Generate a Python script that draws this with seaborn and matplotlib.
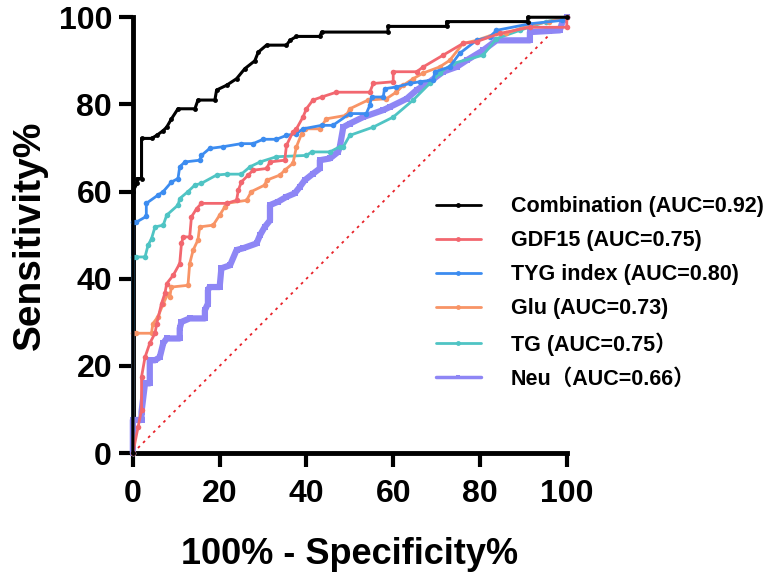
import numpy as np
import pandas as pd
import matplotlib
matplotlib.use("Agg")
import matplotlib.pyplot as plt
from matplotlib.lines import Line2D
import seaborn as sns

# ROC curves: x = 100% - specificity, y = sensitivity
comb_x = [0, 0, 1, 1, 2, 2, 4.3, 5.5, 7, 7.8, 8.9, 10.4, 14.3, 15, 18.9, 19.3, 21.6, 23.9, 25.8, 28.1, 28.9,
          30.8, 35.4, 36.2, 37.7, 43.1, 43.5, 58.8, 58.8, 72.3, 72.3, 91, 91, 100]
comb_y = [0, 60, 62, 63, 63, 72.2, 72.2, 72.9, 74, 74.8, 76.7, 79, 79, 81, 81, 83.3, 84.4, 85.9, 88.2, 90, 92,
          93.6, 93.6, 94.7, 95.6, 95.6, 96.6, 96.6, 97.9, 97.9, 99, 99, 100, 100]

gdf_x = [0, 1.2, 2, 2, 2.8, 3.9, 5.1, 5.5, 6.6, 7.4, 7.8, 9.3, 10.8, 11.2, 11.6, 13.1, 13.5, 14.7, 15.8, 21.6,
         23.9, 24.3, 25, 26.6, 27.7, 30.8, 31.6, 35, 35.4, 36.9, 37.7, 39.2, 40, 41.5, 43.5, 46.9, 54.6, 55.4,
         60, 60, 65.4, 66.9, 71.5, 76.1, 79.2, 84.6, 91.5, 100, 100]
gdf_y = [0, 6, 9.9, 17.5, 22, 25.2, 27.5, 29.7, 34.3, 36.7, 38.9, 40.8, 43.5, 48.1, 49.6, 49.6, 54.2, 56.1,
         57.3, 57.3, 58, 60.3, 62.2, 63.8, 64.9, 65.3, 66.8, 67.2, 70.6, 73.7, 74.4, 77.1, 79, 81, 81.7, 82.8,
         82.8, 84.8, 85.2, 87.5, 87.5, 88.6, 91.3, 94, 94.4, 96.3, 97.7, 97.7, 100]

tyg_x = [0, 0, 0.8, 3.1, 3.1, 5.8, 7, 8.9, 10.4, 10.8, 12, 15.4, 15.8, 17.7, 20.8, 25, 27.7, 30, 33.1, 35.4,
         37.7, 39.2, 43.5, 46.1, 50, 53.8, 54.6, 55, 57.7, 58, 60.7, 63.8, 66.1, 69.2, 69.6, 73, 75.3, 79.2,
         82.3, 83.8, 91.5, 99, 100]
tyg_y = [0, 53, 53, 54.3, 57.3, 59.2, 60, 62.2, 63, 65.7, 66.8, 67.2, 68.3, 69.9, 70.3, 71, 71, 72, 72, 72.9,
         73.3, 74.4, 75.2, 75.2, 77.9, 77.9, 79.8, 81.7, 81.7, 83.6, 84, 84.8, 85.2, 85.6, 87.5, 88.6, 91.7,
         94.7, 95.5, 97, 98.5, 99.3, 100]

glu_x = [0, 0, 0.8, 4.3, 4.6, 5.8, 7, 8.1, 8.5, 8.9, 12.7, 13.1, 13.9, 15, 15.4, 18.5, 20, 21.2, 21.6, 26.2,
         27.3, 30.4, 30.8, 33.9, 35, 36.9, 37.7, 38.9, 39.6, 43.1, 44.6, 49.2, 50, 54.2, 58.4, 60.7, 62.3,
         64.6, 66.9, 70.7, 73, 76.1, 79.2, 83.8, 86, 91.5, 96, 100]
glu_y = [0, 27.5, 27.5, 27.5, 29.7, 31.3, 34.3, 36.6, 35.9, 38.1, 38.5, 43.5, 46.6, 48.9, 51.9, 52.3, 54.6,
         56.5, 57.3, 58, 60, 61.5, 62.6, 63.8, 64.9, 66.5, 70.3, 73.3, 74.4, 74.4, 76.7, 77.5, 79, 81, 81.3,
         82.8, 84.4, 85.9, 87.2, 88.6, 90.1, 94, 94.7, 96.3, 96.3, 98.2, 99, 100]

tg_x = [0, 0, 0.8, 2.8, 3.5, 4.3, 5.1, 7, 7.8, 10.4, 10.8, 12.7, 14.3, 15.8, 19.3, 21.6, 25, 27, 29.3, 33.1,
        40, 41.2, 45.4, 47.7, 48.5, 50, 55.4, 60, 64.6, 68.4, 70.7, 73.8, 80.7, 83.8, 89.2, 95.3, 100]
tg_y = [0, 45, 45, 45, 47.7, 49.2, 51.9, 52.3, 54.6, 56.9, 58.4, 60, 61.5, 61.9, 63.8, 64, 64, 65.7, 66.8,
        68, 68.3, 69.1, 69.1, 70.3, 70.3, 72.9, 74.8, 77.1, 81, 84.8, 87.2, 89.4, 91.3, 95.1, 97, 99, 100]

neu_x = [0, 0, 2, 2, 2.8, 3.9, 3.9, 5.1, 6.2, 7, 7.8, 10.8, 10.8, 11.2, 13.1, 16.6, 16.6, 17.3, 17.3, 17.7,
         20, 20.4, 22.4, 23.9, 25.4, 28.5, 29.3, 30.4, 31.6, 31.6, 33.5, 35.4, 37.3, 38.5, 39.6, 41.5, 43.1,
         43.1, 45.4, 47.3, 47.7, 48.5, 50, 53.1, 57.7, 59.2, 63.1, 65.4, 68.4, 71.5, 74.6, 76.9, 80.7, 83.8,
         91.5, 91.5, 98.4, 99.1, 100]
neu_y = [0, 7.6, 7.6, 9.5, 16, 16, 21.3, 21.3, 22, 25.2, 26.3, 26.3, 28.6, 30.1, 30.9, 30.9, 32.8, 34.3,
         37.4, 38.1, 38.1, 42.4, 43.1, 46.6, 47, 48.1, 50, 51.9, 53.4, 56.9, 57.7, 58.8, 59.6, 61.1, 62.6,
         64.1, 65.3, 67.2, 67.6, 69.1, 70.3, 74.8, 75.6, 77.1, 78.7, 79.4, 81.3, 83.3, 85.2, 87.5, 88.6, 90.1,
         92.4, 94.7, 94.7, 96.6, 97, 99.3, 100]

labels = ["Combination (AUC=0.92)", "GDF15 (AUC=0.75)", "TYG index (AUC=0.80)",
          "Glu (AUC=0.73)", "TG (AUC=0.75）", "Neu（AUC=0.66）"]
colors = ["#000000", "#F2676F", "#3C8CF0", "#F89466", "#4FC4C4", "#8E86F5"]
curves = [(comb_x, comb_y), (gdf_x, gdf_y), (tyg_x, tyg_y), (glu_x, glu_y), (tg_x, tg_y), (neu_x, neu_y)]

sns.set_style("ticks")
plt.rcParams['font.family'] = ['Liberation Sans', 'Noto Sans CJK SC', 'DejaVu Sans']
plt.rcParams['font.weight'] = 'bold'
plt.rcParams['text.color'] = 'black'
plt.rcParams['axes.labelcolor'] = 'black'
plt.rcParams['xtick.color'] = 'black'
plt.rcParams['ytick.color'] = 'black'
plt.rcParams['axes.edgecolor'] = 'black'

fig = plt.figure(figsize=(7.68, 5.75), dpi=100)
ax = fig.add_axes([0.173, 0.212, 0.565, 0.758])

# reference diagonal
ax.plot([0, 100], [0, 100], color="#E8232A", ls=(0, (1.5, 2.5)), lw=1.3, zorder=1)

order = [5, 4, 3, 2, 1, 0]  # draw Neu first, Combination on top
for i in order:
    x, y = curves[i]
    df = pd.DataFrame({"x": x, "y": y})
    if i == 5:
        lw, mk, ms = 4.5, "s", 4
    elif i == 0:
        lw, mk, ms = 2.2, "o", 3.5
    else:
        lw, mk, ms = 2.0, "o", 4
    sns.lineplot(data=df, x="x", y="y", sort=False, estimator=None, color=colors[i], lw=lw,
                 marker=mk, markersize=ms, markeredgewidth=0, ax=ax, clip_on=False, zorder=3 + (5 - i))

ax.set_xlim(0, 100)
ax.set_ylim(0, 100)
ax.set_xticks([0, 20, 40, 60, 80, 100])
ax.set_yticks([0, 20, 40, 60, 80, 100])
ax.tick_params(axis="both", direction="out", length=10, width=3, labelsize=23, colors="black")
ax.tick_params(axis="x", pad=9)
ax.tick_params(axis="y", pad=5)
for lab in ax.get_xticklabels() + ax.get_yticklabels():
    lab.set_fontweight("bold")
sns.despine(ax=ax)
ax.spines["left"].set_linewidth(3.5)
ax.spines["bottom"].set_linewidth(3.5)
ax.set_xlabel("100% - Specificity%", fontsize=26, fontweight="bold", labelpad=20)
ax.set_ylabel("Sensitivity%", fontsize=28, fontweight="bold", labelpad=8)

leg_handles = []
for i in range(6):
    leg_handles.append(Line2D([], [], color=colors[i], lw=2 if i != 5 else 2.5,
                              marker="s" if i == 5 else "o", markersize=3.5, markeredgewidth=0))
fig.legend(leg_handles, labels, loc="upper left", bbox_to_anchor=(0.542, 0.692), frameon=False,
           prop={"size": 15.5, "weight": "bold"}, handlelength=2.1, handletextpad=1.4, labelspacing=0.6)

fig.savefig("out.png", dpi=100)
